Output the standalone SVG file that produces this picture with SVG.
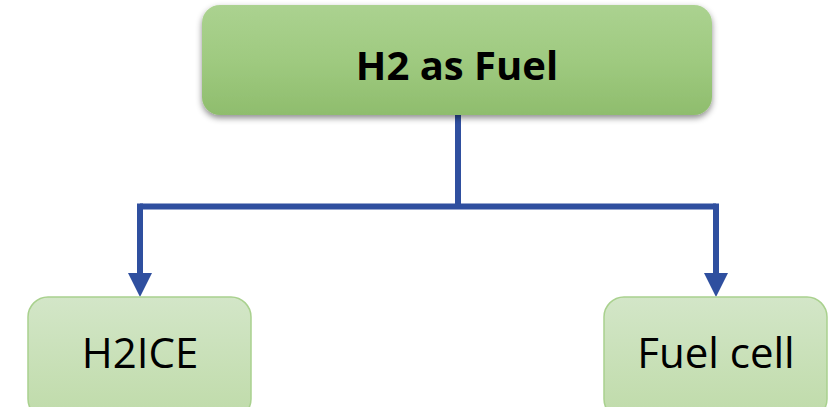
<svg xmlns="http://www.w3.org/2000/svg" width="836" height="407" viewBox="0 0 836 407">
  <style>
    .lbl { font-family: "Open Sans", "Liberation Sans", sans-serif; fill: #000; text-anchor: middle; }
    .title { font-weight: bold; font-size: 40px; }
    .leaf { font-size: 42px; }
    .leafbox { fill: url(#leafFill); stroke: #a9d18e; stroke-width: 1.5; }
    .wire { fill: none; stroke: #2f4f9f; stroke-width: 6; }
  </style>
  <defs>
    <linearGradient id="topFill" x1="0" y1="0" x2="0" y2="1">
      <stop offset="0" stop-color="#abd290"/>
      <stop offset="0.5" stop-color="#9fca80"/>
      <stop offset="1" stop-color="#8fbd6d"/>
    </linearGradient>
    <linearGradient id="leafFill" x1="0" y1="0" x2="0" y2="1">
      <stop offset="0" stop-color="#d3e6c8"/>
      <stop offset="1" stop-color="#bfdba9"/>
    </linearGradient>
    <filter id="shadow" x="-10%" y="-20%" width="120%" height="150%">
      <feDropShadow dx="0" dy="3" stdDeviation="3" flood-color="#000" flood-opacity="0.45"/>
    </filter>
  </defs>

  <!-- connectors: trunk, crossbar, two drops with arrowheads -->
  <g id="connectors">
    <path class="wire" d="M458,115 V206.5"/>
    <path class="wire" d="M140,206.5 H716"/>
    <path class="wire" d="M140,203.5 V273"/>
    <path class="wire" d="M716,203.5 V273"/>
    <path d="M128,273 H152 L140,297 Z" fill="#2f4f9f"/>
    <path d="M704,273 H728 L716,297 Z" fill="#2f4f9f"/>
  </g>

  <g id="node-fuel">
    <rect x="202" y="5" width="510" height="110" rx="18" fill="url(#topFill)" filter="url(#shadow)"/>
    <text class="lbl title" x="457" y="80">H2 as Fuel</text>
  </g>

  <g id="node-h2ice">
    <rect class="leafbox" x="28" y="297" width="223" height="122" rx="20"/>
    <text class="lbl leaf" x="140" y="368">H2ICE</text>
  </g>

  <g id="node-fuelcell">
    <rect class="leafbox" x="604" y="297" width="223" height="122" rx="20"/>
    <text class="lbl leaf" x="716" y="368">Fuel cell</text>
  </g>
</svg>
